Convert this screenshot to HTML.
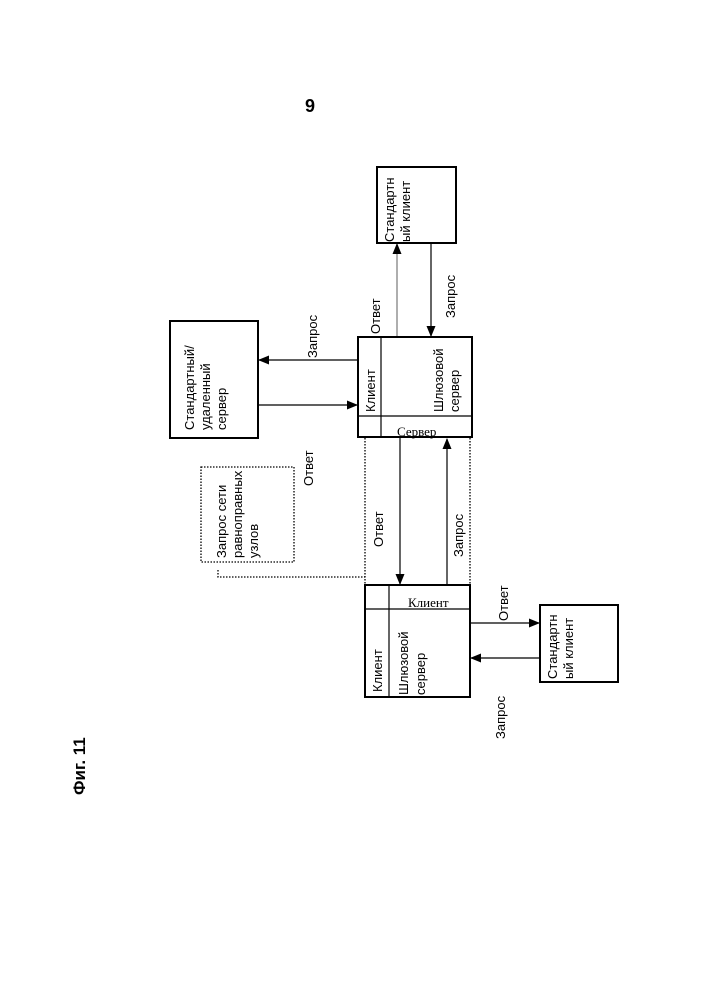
<!DOCTYPE html>
<html><head><meta charset="utf-8"><style>body{margin:0;background:#fff}svg{display:block}</style></head>
<body>
<svg width="707" height="1000" viewBox="0 0 707 1000" xmlns="http://www.w3.org/2000/svg" font-family="Liberation Sans, DejaVu Sans, sans-serif" font-size="13">
<defs><marker id="a" markerWidth="11" markerHeight="9" refX="10" refY="4.5" orient="auto" markerUnits="userSpaceOnUse"><path d="M0,0 L11,4.5 L0,9 z" fill="#000"/></marker></defs>
<text x="310" y="112" font-size="18" font-weight="bold" text-anchor="middle">9</text>
<text transform="translate(85,795) rotate(-90)" font-size="17" font-weight="bold">Фиг. 11</text>
<g fill="none" stroke="#000" stroke-width="2">
<rect x="377" y="167" width="79" height="76"/>
<rect x="170" y="321" width="88" height="117"/>
<rect x="358" y="337" width="114" height="100"/>
<rect x="365" y="585" width="105" height="112"/>
<rect x="540" y="605" width="78" height="77"/>
</g>
<g stroke="#000" stroke-width="1.2">
<line x1="381" y1="337" x2="381" y2="437"/><line x1="358" y1="416" x2="472" y2="416"/>
<line x1="389" y1="585" x2="389" y2="697"/><line x1="365" y1="609" x2="470" y2="609"/>
<line x1="397" y1="336" x2="397" y2="244" stroke="#777" marker-end="url(#a)"/>
<line x1="431" y1="243" x2="431" y2="336" marker-end="url(#a)"/>
<line x1="358" y1="360" x2="259" y2="360" marker-end="url(#a)"/>
<line x1="258" y1="405" x2="357" y2="405" marker-end="url(#a)"/>
<line x1="400" y1="438" x2="400" y2="584" marker-end="url(#a)"/>
<line x1="447" y1="585" x2="447" y2="439" marker-end="url(#a)"/>
<line x1="470" y1="623" x2="539" y2="623" marker-end="url(#a)"/>
<line x1="540" y1="658" x2="471" y2="658" marker-end="url(#a)"/>
</g>
<g fill="none" stroke="#000" stroke-width="1.3" stroke-dasharray="1.5,1.5">
<line x1="365" y1="438" x2="365" y2="585"/><line x1="470" y1="438" x2="470" y2="585"/>
<rect x="201" y="467" width="93" height="95"/>
<polyline points="218,570 218,577 365,577"/>
</g>
<text x="397" y="436" font-family="Liberation Serif, serif" font-size="13">Сервер</text>
<text x="408" y="607" font-family="Liberation Serif, serif" font-size="13">Клиент</text>
<g>
<text transform="translate(394,242) rotate(-90)">Стандартн</text>
<text transform="translate(410,242) rotate(-90)">ый клиент</text>
<text transform="translate(380,334) rotate(-90)">Ответ</text>
<text transform="translate(455,318) rotate(-90)">Запрос</text>
<text transform="translate(317,358) rotate(-90)">Запрос</text>
<text transform="translate(194,430) rotate(-90)">Стандартный/</text>
<text transform="translate(210,430) rotate(-90)">удаленный</text>
<text transform="translate(226,430) rotate(-90)">сервер</text>
<text transform="translate(375,412) rotate(-90)">Клиент</text>
<text transform="translate(443,412) rotate(-90)">Шлюзовой</text>
<text transform="translate(459,412) rotate(-90)">сервер</text>
<text transform="translate(226,558) rotate(-90)">Запрос сети</text>
<text transform="translate(242,558) rotate(-90)">равноправных</text>
<text transform="translate(258,558) rotate(-90)">узлов</text>
<text transform="translate(313,486) rotate(-90)">Ответ</text>
<text transform="translate(383,547) rotate(-90)">Ответ</text>
<text transform="translate(463,557) rotate(-90)">Запрос</text>
<text transform="translate(382,692) rotate(-90)">Клиент</text>
<text transform="translate(408,695) rotate(-90)">Шлюзовой</text>
<text transform="translate(425,695) rotate(-90)">сервер</text>
<text transform="translate(508,621) rotate(-90)">Ответ</text>
<text transform="translate(505,739) rotate(-90)">Запрос</text>
<text transform="translate(557,679) rotate(-90)">Стандартн</text>
<text transform="translate(573,679) rotate(-90)">ый клиент</text>
</g>
</svg>
</body></html>
